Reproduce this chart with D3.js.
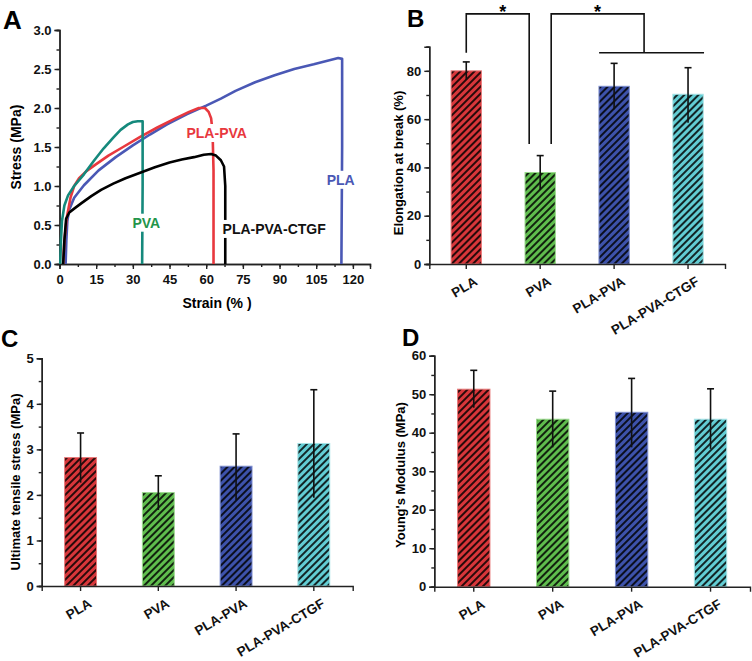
<!DOCTYPE html>
<html>
<head>
<meta charset="utf-8">
<script src="https://cdn.jsdelivr.net/npm/d3@7"></script>
<style>
  body { margin: 0; background: #fff; }
  svg { font-family: "Liberation Sans", Arial, sans-serif; font-weight: bold; }
  .axis path, .axis line { stroke: #222; stroke-width: 1.4; }
  .axis text { font-size: 13px; fill: #111; font-weight: bold; }
</style>
</head>
<body>
<svg id="fig" width="752" height="661"></svg>
<script>
// ---------- data ----------
const groups = ["PLA", "PVA", "PLA-PVA", "PLA-PVA-CTGF"];
const barColors = ["#d8363a", "#5fbd4d", "#3d52ab", "#62cdd4"];
const barEdges = ["#e87a7a", "#9bd98e", "#7f8fd0", "#a6e3e6"];

// B: elongation at break (%)
const elongMean = [80, 37.9, 73.6, 70.3];
const elongHi = [83.7, 44.9, 83.1, 81.3];
const elongLo = [76.3, 30.8, 64.1, 58.5];
// C: ultimate tensile stress (MPa)
const utsMean = [2.82, 2.05, 2.63, 3.13];
const utsHi = [3.36, 2.42, 3.34, 4.31];
const utsLo = [2.27, 1.67, 1.89, 1.94];
// D: Young's modulus (MPa)
const ymMean = [51.3, 43.5, 45.3, 43.5];
const ymHi = [56.2, 50.8, 54.1, 51.4];
const ymLo = [46.5, 36.2, 36.2, 35.8];

// A: stress-strain curves [strain %, stress MPa]
const curvePLA = [[2.5,0],[2.8,0.3],[3.2,0.55],[4,0.7],[6,0.85],[10,1.01],[16,1.2],[23,1.37],[30,1.52],[37,1.66],[44,1.79],[52,1.92],[60,2.03],[66,2.12],[72,2.22],[80,2.33],[88,2.42],[96,2.5],[104,2.56],[110,2.61],[114,2.64],[115.6,2.63],[115.6,1.5],[115.3,0]];
const curvePLAPVA = [[1.5,0],[2,0.3],[3,0.6],[4.5,0.85],[6,1.0],[8,1.1],[11,1.19],[15,1.28],[20,1.39],[26,1.5],[33,1.63],[40,1.75],[47,1.86],[53,1.95],[57,2.0],[59.5,2.0],[61,1.95],[62,1.87],[62.6,1.7],[63,1.2],[63,0]];
const curvePVA = [[0.3,0],[0.6,0.3],[1,0.55],[2,0.75],[3.5,0.88],[6,1.0],[10,1.15],[14,1.32],[18,1.48],[22,1.62],[25,1.72],[28,1.79],[30,1.82],[32,1.83],[34,1.83],[34,1.0],[33.8,0]];
const curveCTGF = [[1.5,0],[2,0.3],[2.7,0.58],[4,0.66],[6,0.71],[9,0.78],[13,0.87],[17,0.95],[22,1.03],[27,1.1],[33,1.17],[39,1.24],[45,1.3],[50,1.34],[55,1.37],[59,1.4],[62,1.41],[64,1.39],[66,1.33],[67.3,1.25],[67.8,1.0],[67.8,0]];

const curves = [
  {name: "PLA", pts: curvePLA, color: "#4a58b5", label: [115, 1.08], labelColor: "#4a58b5"},
  {name: "PLA-PVA", pts: curvePLAPVA, color: "#e8383e", label: [64.3, 1.68], labelColor: "#e8383e"},
  {name: "PVA", pts: curvePVA, color: "#15897c", label: [35.5, 0.53], labelColor: "#23954a"},
  {name: "PLA-PVA-CTGF", pts: curveCTGF, color: "#000", label: [87.8, 0.45], labelColor: "#111"}
];
const strainTicks = [0, 15, 30, 45, 60, 75, 90, 105, 120];
const stressTicks = [0, 0.5, 1.0, 1.5, 2.0, 2.5, 3.0];

const svg = d3.select("#fig");
svg.append("rect").attr("width", 752).attr("height", 661).attr("fill", "#fff");

// hatch patterns
const defs = svg.append("defs");
barColors.forEach((c, i) => {
  const p = defs.append("pattern")
    .attr("id", "hatch" + i)
    .attr("patternUnits", "userSpaceOnUse")
    .attr("width", 5).attr("height", 5)
    .attr("patternTransform", "rotate(45)");
  p.append("rect").attr("width", 5).attr("height", 5).attr("fill", c);
  p.append("rect").attr("width", 2).attr("height", 5).attr("fill", "rgba(0,0,0,0.82)");
});

function panelLabel(txt, x, y, size) {
  svg.append("text").attr("x", x).attr("y", y)
    .attr("font-size", size).attr("fill", "#000").text(txt);
}

// ---------- Panel A ----------
{
  const x = d3.scaleLinear().domain([0, 127]).range([59.5, 370]);
  const y = d3.scaleLinear().domain([0, 3]).range([264, 30]);
  const g = svg.append("g");

  g.append("g").attr("class", "axis").attr("transform", "translate(0,264)")
    .call(d3.axisBottom(x).tickValues(d3.range(0, 127, 7.5)).tickSize(3).tickFormat(""));
  g.append("g").attr("class", "axis").attr("transform", "translate(0,264)")
    .call(d3.axisBottom(x).tickValues(strainTicks).tickSize(5).tickFormat(d3.format("d")))
    .selectAll("text").attr("font-size", 13).attr("dy", "0.9em");
  g.append("g").attr("class", "axis").attr("transform", "translate(59.5,0)")
    .call(d3.axisLeft(y).tickValues(d3.range(0, 3.01, 0.25)).tickSize(3).tickFormat(""));
  g.append("g").attr("class", "axis").attr("transform", "translate(59.5,0)")
    .call(d3.axisLeft(y).tickValues(stressTicks).tickSize(5).tickFormat(d3.format(".1f")))
    .selectAll("text").attr("font-size", 13);
  g.selectAll(".axis .domain").attr("stroke-width", 1.5);

  const line = d3.line().x(d => x(d[0])).y(d => y(d[1]));
  curves.forEach(c => {
    g.append("path").attr("d", line(c.pts)).attr("fill", "none")
      .attr("stroke", c.color).attr("stroke-width", 2.6).attr("stroke-linejoin", "round");
  });
  curves.forEach(c => {
    const lg = g.append("g");
    const t = lg.append("text").attr("x", x(c.label[0])).attr("y", y(c.label[1]))
      .attr("text-anchor", "middle").attr("dy", "0.36em")
      .attr("font-size", 14).attr("fill", c.labelColor).text(c.name);
    const bb = t.node().getBBox();
    lg.insert("rect", ":first-child").attr("x", bb.x - 2).attr("y", bb.y - 1)
      .attr("width", bb.width + 4).attr("height", bb.height + 2).attr("fill", "#fff");
  });

  g.append("text").attr("transform", "translate(16,147) rotate(-90)")
    .attr("text-anchor", "middle").attr("dy", "0.35em").attr("font-size", 14).text("Stress (MPa)");
  g.append("text").attr("x", 217).attr("y", 308).attr("text-anchor", "middle")
    .attr("font-size", 14).text("Strain (% )");
  panelLabel("A", 3, 29, 26);
}

// ---------- bar panels ----------
function barPanel(o) {
  const x = d3.scaleBand().domain(groups).range([o.left, o.right]).padding(0);
  const y = d3.scaleLinear().domain([0, o.max]).range([o.bottom, o.top]);
  const bw = x.bandwidth() * 0.41;
  const cx = d => x(d) + x.bandwidth() / 2;
  const g = svg.append("g");

  g.append("g").attr("class", "axis").attr("transform", `translate(${o.left},0)`)
    .call(d3.axisLeft(y).tickValues(d3.range(0, o.max + 1e-6, o.minor)).tickSize(3).tickFormat(""));
  g.append("g").attr("class", "axis").attr("transform", `translate(${o.left},0)`)
    .call(d3.axisLeft(y).tickValues(o.ticks).tickSize(5).tickFormat(d3.format("d")))
    .selectAll("text").attr("font-size", 13);

  g.selectAll(".bar").data(groups).enter().append("rect")
    .attr("x", d => cx(d) - bw / 2)
    .attr("y", (d, i) => y(o.mean[i]))
    .attr("width", bw)
    .attr("height", (d, i) => o.bottom - y(o.mean[i]))
    .attr("fill", (d, i) => `url(#hatch${i})`)
    .attr("stroke", (d, i) => barEdges[i]).attr("stroke-width", 1);

  g.append("g").attr("class", "axis").attr("transform", `translate(0,${o.bottom})`)
    .call(d3.axisBottom(x).tickSize(5).tickFormat(""));
  g.selectAll(".axis .domain").attr("stroke-width", 1.5);

  // error bars
  groups.forEach((d, i) => {
    const c = cx(d);
    g.append("line").attr("x1", c).attr("x2", c).attr("y1", y(o.lo[i])).attr("y2", y(o.hi[i]))
      .attr("stroke", "#111").attr("stroke-width", 1.6);
    g.append("line").attr("x1", c - 3.5).attr("x2", c + 3.5).attr("y1", y(o.hi[i])).attr("y2", y(o.hi[i]))
      .attr("stroke", "#111").attr("stroke-width", 1.6);
  });

  // rotated category labels
  groups.forEach(d => {
    g.append("text")
      .attr("transform", `translate(${cx(d) + 12},${o.bottom + 20}) rotate(-31)`)
      .attr("text-anchor", "end").attr("font-size", 13.5).attr("fill", "#111").text(d);
  });

  g.append("text").attr("transform", `translate(${o.titleX},${o.titleY}) rotate(-90)`)
    .attr("text-anchor", "middle").attr("dy", "0.35em").attr("font-size", 13).text(o.title);
  return {x, y, cx, g};
}

// Panel B
const pB = barPanel({left: 429.3, right: 725, top: 46.7, bottom: 264, max: 90, minor: 10,
  ticks: [0, 20, 40, 60, 80], mean: elongMean, hi: elongHi, lo: elongLo,
  title: "Elongation at break (%)", titleX: 398, titleY: 163});
panelLabel("B", 407, 27, 24);
{
  const {cx, y, g} = pB;
  const top = y(103.6);
  const x1 = cx("PLA"), x2 = cx("PVA") - 11, x3 = cx("PVA") + 11;
  const x4 = (cx("PLA-PVA") + cx("PLA-PVA-CTGF")) / 2 - 7;
  const paths = [
    `M${x1},${y(87.5)}V${top}H${x2}V${y(49.7)}`,
    `M${x3},${y(49.7)}V${top}H${x4}V${y(87.5)}`,
    `M${cx("PLA-PVA") - 15},${y(87.5)}H${cx("PLA-PVA-CTGF") + 16}`
  ];
  paths.forEach(p => g.append("path").attr("d", p)
    .attr("stroke", "#111").attr("stroke-width", 1.6).attr("fill", "none"));
  g.append("text").attr("x", (x1 + x2) / 2 + 5).attr("y", 18).attr("text-anchor", "middle")
    .attr("font-size", 18).text("*");
  g.append("text").attr("x", (x3 + x4) / 2).attr("y", 18).attr("text-anchor", "middle")
    .attr("font-size", 18).text("*");
}

// Panel C
barPanel({left: 41.7, right: 352.7, top: 358.3, bottom: 586, max: 5, minor: 0.5,
  ticks: [0, 1, 2, 3, 4, 5], mean: utsMean, hi: utsHi, lo: utsLo,
  title: "Ultimate tensile stress (MPa)", titleX: 15, titleY: 482});
panelLabel("C", 1, 347, 24);

// Panel D
barPanel({left: 434.3, right: 750, top: 355.7, bottom: 586.7, max: 60, minor: 5,
  ticks: [0, 10, 20, 30, 40, 50, 60], mean: ymMean, hi: ymHi, lo: ymLo,
  title: "Young's Modulus (MPa)", titleX: 400, titleY: 475});
panelLabel("D", 402, 346, 24);
</script>
</body>
</html>
